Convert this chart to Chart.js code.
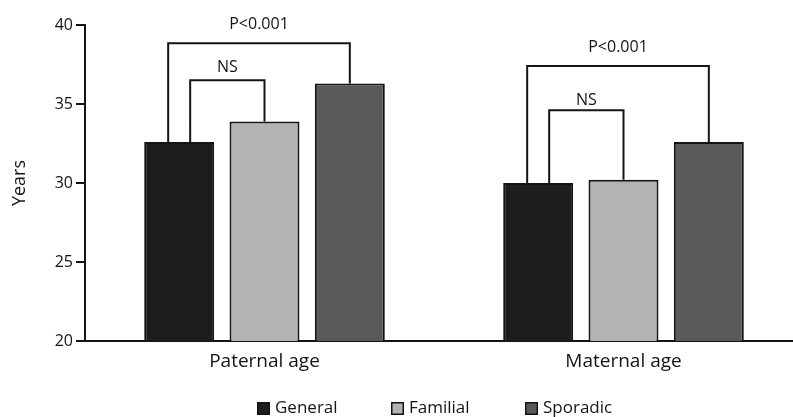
<!DOCTYPE html>
<html><head><meta charset="utf-8">
<script src="https://cdn.jsdelivr.net/npm/chart.js@4.4.1/dist/chart.umd.min.js"></script>
<style>html,body{margin:0;padding:0;background:#fff;overflow:hidden;width:793px;height:417px}canvas{display:block}</style>
</head><body>
<canvas id="c" width="803" height="417"></canvas>
<script>
// ---- data ----
const categories = ['Paternal age', 'Maternal age'];
const seriesNames = ['General', 'Familial', 'Sporadic'];
const generalValues = [32.6, 30.0];
const familialValues = [33.9, 30.2];
const sporadicValues = [36.3, 32.6];
const yTickValues = [20, 25, 30, 35, 40];
const yAxisTitle = 'Years';
// significance brackets
const bracketCategory = [0, 0, 1, 1];
const bracketFromSeries = [0, 0, 0, 0];
const bracketToSeries = [2, 1, 2, 1];
const bracketTopValues = [38.85, 36.5, 37.4, 34.6];
const bracketLabels = ['P<0.001', 'NS', 'P<0.001', 'NS'];
const bracketLabelValues = [40.05, 37.3, 38.55, 35.25];

// ---- styles ----
const seriesColors = ['#1d1d1d', '#b3b3b3', '#5a5a5a'];
const inkColor = '#141414';
const FONT = "'Open Sans', 'DejaVu Sans', sans-serif";
Chart.defaults.font.family = FONT;
Chart.defaults.color = inkColor;
const LEG_OFFSET = 11;
const LEGEND_START_X = 257, LEGEND_STEP = 134, LEGEND_BOX_TOP = 402, LEGEND_BOX = 13;

const seriesValues = [generalValues, familialValues, sporadicValues];

const bracketPlugin = {
  id: 'brackets',
  afterDatasetsDraw(chart) {
    const ctx = chart.ctx, y = chart.scales.y;
    ctx.save();
    ctx.strokeStyle = inkColor;
    ctx.lineWidth = 2;
    ctx.lineJoin = 'miter';
    ctx.font = '16px ' + FONT;
    ctx.fillStyle = inkColor;
    ctx.textAlign = 'center';
    ctx.textBaseline = 'middle';
    bracketCategory.forEach((cat, k) => {
      const a = chart.getDatasetMeta(bracketFromSeries[k]).data[cat];
      const b = chart.getDatasetMeta(bracketToSeries[k]).data[cat];
      const outer = bracketToSeries[k] === seriesNames.length - 1;
      const xa = a.x + (outer ? -LEG_OFFSET : LEG_OFFSET);
      const xb = b.x;
      const yt = y.getPixelForValue(bracketTopValues[k]);
      ctx.beginPath();
      ctx.moveTo(xa, a.y);
      ctx.lineTo(xa, yt);
      ctx.lineTo(xb, yt);
      ctx.lineTo(xb, b.y);
      ctx.stroke();
      ctx.fillText(bracketLabels[k], (xa + xb) / 2, y.getPixelForValue(bracketLabelValues[k]));
    });
    ctx.restore();
  }
};

const legendPlugin = {
  id: 'customLegend',
  afterDraw(chart) {
    const ctx = chart.ctx;
    ctx.save();
    ctx.font = '17px ' + FONT;
    ctx.textBaseline = 'middle';
    ctx.textAlign = 'left';
    chart.data.datasets.forEach((ds, i) => {
      const x = LEGEND_START_X + i * LEGEND_STEP;
      ctx.fillStyle = ds.backgroundColor;
      ctx.fillRect(x, LEGEND_BOX_TOP, LEGEND_BOX, LEGEND_BOX);
      ctx.strokeStyle = inkColor;
      ctx.lineWidth = 1.5;
      ctx.strokeRect(x + 0.75, LEGEND_BOX_TOP + 0.75, LEGEND_BOX - 1.5, LEGEND_BOX - 1.5);
      ctx.fillStyle = inkColor;
      ctx.fillText(ds.label, x + LEGEND_BOX + 5, LEGEND_BOX_TOP + LEGEND_BOX / 2);
    });
    ctx.restore();
  }
};

new Chart(document.getElementById('c'), {
  type: 'bar',
  data: {
    labels: categories,
    datasets: seriesNames.map((name, i) => ({
      label: name,
      data: seriesValues[i],
      backgroundColor: seriesColors[i],
      borderColor: inkColor,
      borderWidth: 2,
      borderSkipped: false,
      categoryPercentage: 0.713,
      barPercentage: 0.82
    }))
  },
  options: {
    responsive: false,
    animation: false,
    layout: { padding: { top: 25, right: 0, bottom: 46, left: 0 } },
    plugins: { legend: { display: false }, tooltip: { enabled: false } },
    scales: {
      x: {
        grid: { drawOnChartArea: false, drawTicks: false },
        border: { display: true, color: inkColor, width: 2 },
        ticks: { font: { size: 19 }, color: inkColor, padding: 9 },
        afterFit(scale) { scale.height = 30; }
      },
      y: {
        min: 20, max: 40,
        afterBuildTicks(scale) { scale.ticks = yTickValues.map(v => ({ value: v })); },
        grid: { drawOnChartArea: false, drawTicks: true, tickLength: 9, color: inkColor, lineWidth: 2 },
        border: { display: true, color: inkColor, width: 2 },
        ticks: { font: { size: 16 }, color: inkColor, padding: 3 },
        title: { display: true, text: yAxisTitle, font: { size: 18 }, color: inkColor, padding: { top: 9, bottom: 0 } },
        afterFit(scale) { scale.width = 85; }
      }
    }
  },
  plugins: [bracketPlugin, legendPlugin]
});
</script>
</body></html>
